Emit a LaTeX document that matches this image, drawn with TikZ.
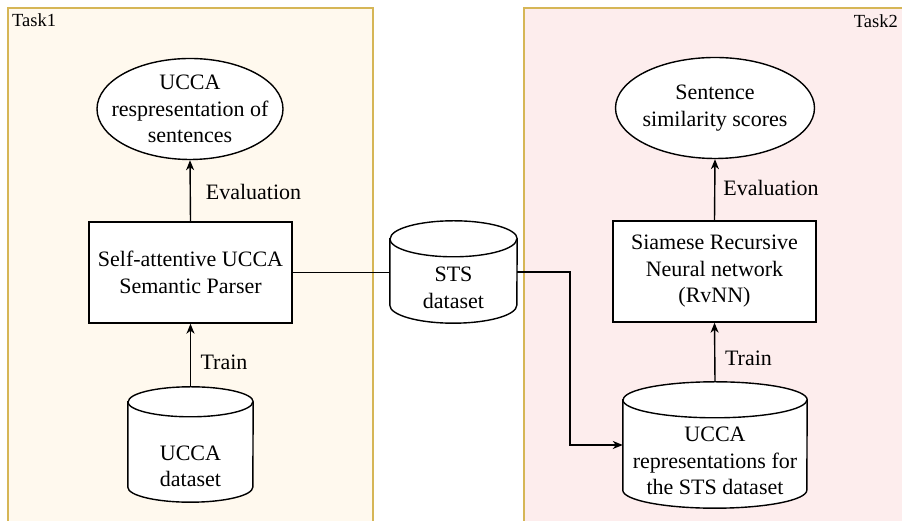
\documentclass[tikz,border=0pt]{standalone}
\usepackage{fontspec}
\setmainfont{Liberation Serif}
\usetikzlibrary{shapes.geometric,arrows.meta,calc}
\definecolor{panelA}{HTML}{FFF9EE}
\definecolor{panelB}{HTML}{FDEDED}
\definecolor{panelline}{HTML}{D6B656}
\tikzset{
  panel/.style={draw=panelline, line width=1.2pt},
  box/.style={draw, line width=1.4pt, fill=white, minimum width=203pt, minimum height=101pt, inner sep=2pt, align=center, font=\fontsize{22}{26.5}\selectfont},
  oval/.style={draw, ellipse, line width=1.4pt, fill=white, inner sep=0pt},
  txt/.style={align=center, inner sep=0pt, font=\fontsize{22}{26.5}\selectfont},
  lbl/.style={inner sep=0pt, font=\fontsize{22}{26.5}\selectfont},
  tasklbl/.style={inner sep=0pt, font=\fontsize{18.5}{21}\selectfont},
  cylnode/.style={inner sep=0pt, draw=none},
  cyl/.style={draw, line width=1.4pt, fill=white},
  conn/.style={line width=1.4pt},
  arr/.style={conn, -{Stealth[length=10pt,width=8pt,inset=3pt]}}
}
\newcommand\cylshape[3]{%
  \draw[cyl] ($(#1.north west)+(0,-#3)$) -- ($(#1.south west)+(0,#3)$)
    arc[start angle=180,end angle=360,x radius=#2,y radius=#3]
    -- ($(#1.north east)+(0,-#3)$)
    arc[start angle=0,end angle=180,x radius=#2,y radius=#3] -- cycle;
  \draw[cyl,fill=none] ($(#1.north west)+(0,-#3)$)
    arc[start angle=180,end angle=360,x radius=#2,y radius=#3];
}
\begin{document}
\begin{tikzpicture}[x=1pt,y=1pt]
\useasboundingbox (0,0) rectangle (902,521);
\clip (0,0) rectangle (902,521);
% panels
\draw[panel, fill=panelA] (8,-10) rectangle (373,513);
\draw[panel, fill=panelB] (524,-10) rectangle (920,513);
\node[tasklbl, anchor=base west] (t1) at (12,494) {Task1};
\node[tasklbl, anchor=base east] (t2) at (898,493) {Task2};

% left column
\node[oval, minimum width=186pt, minimum height=101pt] (lell) at (190,412) {};
\node[txt] (lellt) at (190,412) {UCCA\\respresentation of\\sentences};
\node[box] (lbox) at (190.5,248.5) {Self-attentive UCCA\\Semantic Parser};
\node[cylnode, minimum width=125pt, minimum height=115pt] (lcyl) at (190.5,76.5) {};
\cylshape{lcyl}{62.5pt}{15pt}
\node[txt] (lcylt) at (190.5,54.5) {UCCA\\dataset};

% middle
\node[cylnode, minimum width=127pt, minimum height=102pt] (sts) at (453.5,249) {};
\cylshape{sts}{63.5pt}{18pt}
\node[txt] (stst) at (453.5,233) {STS\\dataset};

% right column
\node[oval, minimum width=199pt, minimum height=101pt] (rell) at (715,413) {};
\node[txt] (rellt) at (715,413) {Sentence\\similarity scores};
\node[box] (rbox) at (714.5,249.5) {Siamese Recursive\\Neural network\\(RvNN)};
\node[cylnode, minimum width=184pt, minimum height=126pt] (rcyl) at (715,76) {};
\cylshape{rcyl}{92pt}{18pt}
\node[txt] (rcylt) at (715,60) {UCCA\\representations for\\the STS dataset};

% connectors
\draw[arr] (lcyl.north) -- (lbox.south);
\draw[arr] (lbox.north) -- (lell.south);
\draw[arr] (rcyl.north) -- (rbox.south);
\draw[arr] (rbox.north) -- (rell.south);
\draw[conn] (lbox.east) -- (lbox.east -| sts.west);
\coordinate (bend) at (570,249);
\draw[arr] (sts.east) -- (bend) |- (rcyl.west);

% labels
\node[lbl] (ev1) at (253.5,329) {Evaluation};
\node[lbl] (tr1) at (224,159) {Train};
\node[lbl] (ev2) at (771,333) {Evaluation};
\node[lbl] (tr2) at (748.5,163) {Train};
\end{tikzpicture}
\end{document}
